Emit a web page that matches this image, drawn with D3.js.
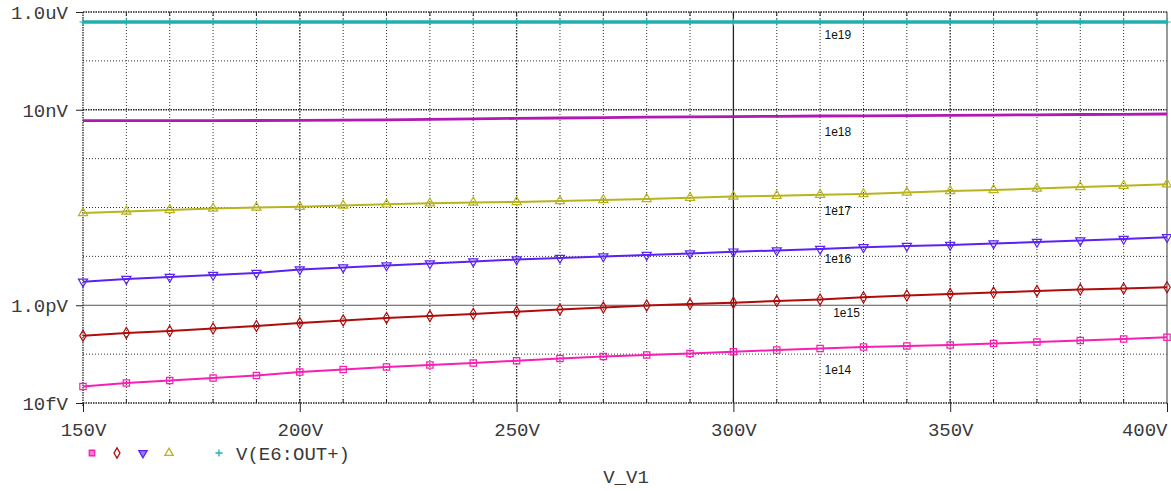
<!DOCTYPE html>
<html>
<head>
<meta charset="utf-8">
<script src="https://cdn.jsdelivr.net/npm/d3@7"></script>
<style>
  body { margin: 0; background: #fff; }
  svg { display: block; }
  .axis text { font-family: "Liberation Mono", "Courier New", monospace; fill: #3a3a3a; }
</style>
</head>
<body>
<div id="chart"></div>
<script>
// sweep voltage (V_V1), one point every 10 V
const volts = [150, 160, 170, 180, 190, 200, 210, 220, 230, 240, 250, 260, 270,
  280, 290, 300, 310, 320, 330, 340, 350, 360, 370, 380, 390, 400];

// V(E6:OUT+) for each parameter value
const v1e14 = [2.18e-14, 2.57e-14, 2.89e-14, 3.25e-14, 3.65e-14, 4.31e-14, 4.85e-14, 5.45e-14,
  5.99e-14, 6.58e-14, 7.34e-14, 8.14e-14, 8.94e-14, 9.60e-14, 1.03e-13, 1.12e-13, 1.21e-13,
  1.30e-13, 1.40e-13, 1.47e-13, 1.54e-13, 1.65e-13, 1.77e-13, 1.90e-13, 2.04e-13, 2.21e-13];
const v1e15 = [2.38e-13, 2.71e-13, 2.97e-13, 3.34e-13, 3.76e-13, 4.33e-13, 4.88e-13, 5.49e-13,
  6.03e-13, 6.62e-13, 7.38e-13, 8.18e-13, 8.99e-13, 9.88e-13, 1.06e-12, 1.13e-12, 1.22e-12,
  1.31e-12, 1.45e-12, 1.58e-12, 1.70e-12, 1.82e-12, 1.96e-12, 2.10e-12, 2.20e-12, 2.33e-12];
const v1e16 = [3.03e-12, 3.44e-12, 3.78e-12, 4.16e-12, 4.57e-12, 5.39e-12, 5.92e-12, 6.51e-12,
  7.15e-12, 7.86e-12, 8.63e-12, 9.27e-12, 9.94e-12, 1.07e-11, 1.15e-11, 1.25e-11, 1.32e-11,
  1.42e-11, 1.53e-11, 1.63e-11, 1.71e-11, 1.83e-11, 1.97e-11, 2.11e-11, 2.27e-11, 2.46e-11];
const v1e17 = [7.72e-11, 8.28e-11, 8.89e-11, 9.54e-11, 1.00e-10, 1.04e-10, 1.10e-10, 1.16e-10,
  1.22e-10, 1.27e-10, 1.30e-10, 1.36e-10, 1.42e-10, 1.49e-10, 1.59e-10, 1.68e-10, 1.74e-10,
  1.83e-10, 1.89e-10, 2.03e-10, 2.18e-10, 2.28e-10, 2.45e-10, 2.63e-10, 2.79e-10, 2.98e-10];
const v1e18 = [5.97e-9, 5.97e-9, 6.00e-9, 6.00e-9, 6.03e-9, 6.06e-9, 6.11e-9, 6.23e-9,
  6.38e-9, 6.53e-9, 6.65e-9, 6.78e-9, 6.91e-9, 7.04e-9, 7.14e-9, 7.24e-9, 7.35e-9,
  7.45e-9, 7.52e-9, 7.59e-9, 7.66e-9, 7.77e-9, 7.88e-9, 7.99e-9, 8.07e-9, 8.18e-9];
const v1e19 = [6.24e-7, 6.24e-7, 6.24e-7, 6.24e-7, 6.24e-7, 6.24e-7, 6.24e-7, 6.24e-7,
  6.24e-7, 6.24e-7, 6.24e-7, 6.24e-7, 6.24e-7, 6.24e-7, 6.24e-7, 6.24e-7, 6.24e-7,
  6.24e-7, 6.24e-7, 6.24e-7, 6.24e-7, 6.24e-7, 6.24e-7, 6.24e-7, 6.24e-7, 6.24e-7];

const seriesNames = ['1e14', '1e15', '1e16', '1e17', '1e18', '1e19'];
const seriesValues = [v1e14, v1e15, v1e16, v1e17, v1e18, v1e19];
// where the hand-placed annotation sits, in data units [V, volts]
const annotVolts = [321, 323, 321, 321, 321, 321];
const annotLevels = [3.92e-14, 5.75e-13, 7.32e-12, 7.02e-11, 2.9e-9, 2.8e-7];

const xTickValues = [150, 200, 250, 300, 350, 400];
const xTickLabels = ['150V', '200V', '250V', '300V', '350V', '400V'];
const yTickValues = [1e-6, 1e-8, 1e-12, 1e-14];
const yTickLabels = ['1.0uV', '10nV', '1.0pV', '10fV'];
const legendText = 'V(E6:OUT+)';
const xTitle = 'V_V1';

// look of each trace
const styles = [
  { color: '#f71fb4', width: 2, marker: 'square' },
  { color: '#b00c0c', width: 2, marker: 'diamond' },
  { color: '#5a22f5', width: 2, marker: 'down' },
  { color: '#b8b41e', width: 2, marker: 'up' },
  { color: '#b01ab2', width: 2.8, marker: 'none' },
  { color: '#1fb0ac', width: 3.5, marker: 'plus' },
];

const W = 1171;
const H = 491;
const plot = { left: 83, right: 1167, top: 12, bottom: 403 };

const svg = d3.select('#chart')
  .append('svg')
  .attr('width', W)
  .attr('height', H);

const x = d3.scaleLinear().domain([150, 400]).range([plot.left, plot.right]);
const y = d3.scaleLog().domain([1e-14, 1e-6]).range([plot.bottom, plot.top]);

// grid
const minorX = d3.range(160, 400, 10).filter((v) => v % 50 !== 0);
svg.append('g').selectAll('line')
  .data(minorX)
  .enter()
  .append('line')
  .attr('x1', (d) => x(d)).attr('x2', (d) => x(d))
  .attr('y1', plot.top).attr('y2', plot.bottom)
  .attr('stroke', '#333')
  .attr('stroke-width', 1)
  .attr('stroke-dasharray', '1,2');

svg.append('g').selectAll('line')
  .data([200, 250, 350])
  .enter()
  .append('line')
  .attr('x1', (d) => x(d)).attr('x2', (d) => x(d))
  .attr('y1', plot.top).attr('y2', plot.bottom)
  .attr('stroke', '#222')
  .attr('stroke-width', 1.3)
  .attr('stroke-dasharray', '1.5,1.5');

svg.append('line')
  .attr('x1', x(300)).attr('x2', x(300))
  .attr('y1', plot.top).attr('y2', plot.bottom)
  .attr('stroke', '#222')
  .attr('stroke-width', 1.3);

const decades = d3.range(-13, -6).map((k) => Math.pow(10, k)).filter((v) => v !== 1e-8 && v !== 1e-12);
svg.append('g').selectAll('line')
  .data(decades)
  .enter()
  .append('line')
  .attr('x1', plot.left).attr('x2', plot.right)
  .attr('y1', (d) => y(d)).attr('y2', (d) => y(d))
  .attr('stroke', '#333')
  .attr('stroke-width', 1)
  .attr('stroke-dasharray', '1,2');

svg.append('g').selectAll('line')
  .data([1e-6, 1e-8, 1e-14])
  .enter()
  .append('line')
  .attr('x1', plot.left).attr('x2', plot.right)
  .attr('y1', (d) => y(d)).attr('y2', (d) => y(d))
  .attr('stroke', '#222')
  .attr('stroke-width', 1.3)
  .attr('stroke-dasharray', '1.5,1');

svg.append('line')
  .attr('x1', plot.left).attr('x2', plot.right)
  .attr('y1', y(1e-12)).attr('y2', y(1e-12))
  .attr('stroke', '#555')
  .attr('stroke-width', 1);

// frame: dotted left edge, solid right edge
svg.append('line')
  .attr('x1', plot.left).attr('x2', plot.left)
  .attr('y1', plot.top).attr('y2', plot.bottom + 3)
  .attr('stroke', '#222')
  .attr('stroke-width', 1.3)
  .attr('stroke-dasharray', '1.5,1');
svg.append('line')
  .attr('x1', plot.right).attr('x2', plot.right)
  .attr('y1', plot.top).attr('y2', plot.bottom)
  .attr('stroke', '#555')
  .attr('stroke-width', 1.2);

// small ticks on top and bottom edges, every 10 V
const allX = d3.range(160, 400, 10);
svg.append('g').selectAll('line')
  .data(allX)
  .enter()
  .append('line')
  .attr('x1', (d) => x(d)).attr('x2', (d) => x(d))
  .attr('y1', plot.top).attr('y2', plot.top + 4)
  .attr('stroke', '#222');
svg.append('g').selectAll('line')
  .data(allX)
  .enter()
  .append('line')
  .attr('x1', (d) => x(d)).attr('x2', (d) => x(d))
  .attr('y1', plot.bottom - 4).attr('y2', plot.bottom)
  .attr('stroke', '#222');

// X axis
const xAxis = svg.append('g')
  .attr('class', 'axis')
  .attr('transform', `translate(0,${plot.bottom})`)
  .call(d3.axisBottom(x).tickValues(xTickValues).tickFormat((d, i) => xTickLabels[i]).tickSize(9));
xAxis.select('.domain').remove();
xAxis.selectAll('line').attr('stroke', '#222');
xAxis.selectAll('text')
  .attr('y', 33).attr('dy', 0)
  .style('font-size', '19px')
  // last label is pulled inside the frame
  .attr('text-anchor', (d) => (d === 400 ? 'end' : 'middle'));

// Y axis
const yAxis = svg.append('g')
  .attr('class', 'axis')
  .attr('transform', `translate(${plot.left},0)`)
  .call(d3.axisLeft(y).tickValues(yTickValues).tickFormat((d, i) => yTickLabels[i]).tickSize(7));
yAxis.select('.domain').remove();
yAxis.selectAll('line').attr('stroke', '#222');
yAxis.selectAll('text')
  .attr('x', -15).attr('dy', '0.35em')
  .style('font-size', '19px');

// markers
function markerPath(type, size) {
  if (type === 'square') return d3.symbol(d3.symbolSquare, size)();
  if (type === 'diamond') return d3.symbol(d3.symbolDiamond, size)();
  if (type === 'up' || type === 'down') return d3.symbol(d3.symbolTriangle, size)();
  if (type === 'plus') return 'M0,-3.5V3.5M-3.5,0H3.5';
  return null;
}

const line = d3.line()
  .x((d) => x(d[0]))
  .y((d) => y(d[1]));

seriesValues.forEach((vals, i) => {
  const st = styles[i];
  const pts = volts.map((v, j) => [v, vals[j]]);
  const g = svg.append('g');

  g.append('path')
    .datum(pts)
    .attr('d', line)
    .attr('fill', 'none')
    .attr('stroke', st.color)
    .attr('stroke-width', st.width);

  if (st.marker !== 'none') {
    g.selectAll('path.mk')
      .data(pts)
      .enter()
      .append('path')
      .attr('class', 'mk')
      .attr('d', markerPath(st.marker, st.marker === 'square' ? 40 : 36))
      .attr('transform', (d) => `translate(${x(d[0])},${y(d[1])})${st.marker === 'down' ? 'rotate(180)' : ''}`)
      .attr('fill', 'none')
      .attr('stroke', st.color)
      .attr('stroke-width', 1.2);
  }

  // series annotation
  svg.append('text')
    .attr('x', x(annotVolts[i]))
    .attr('y', y(annotLevels[i]))
    .attr('font-family', '"Liberation Sans", Arial, sans-serif')
    .attr('font-size', '12px')
    .attr('fill', '#111')
    .text(seriesNames[i]);
});

// legend
const legendX = [92, 117, 143, 169, 194, 219];
const legend = svg.append('g').attr('transform', 'translate(0,453)');
styles.forEach((st, i) => {
  if (st.marker === 'none') return;
  legend.append('path')
    .attr('d', markerPath(st.marker, 30))
    .attr('transform', `translate(${legendX[i]},0)${st.marker === 'down' ? 'rotate(180)' : ''}`)
    .attr('fill', st.marker === 'square' || st.marker === 'down' ? st.color : 'none')
    .attr('fill-opacity', 0.6)
    .attr('stroke', st.color)
    .attr('stroke-width', 1.3);
});
legend.append('text')
  .attr('x', 236)
  .attr('y', 7)
  .attr('font-family', '"Liberation Mono", "Courier New", monospace')
  .attr('font-size', '19px')
  .attr('fill', '#3a3a3a')
  .text(legendText);

// x title
svg.append('text')
  .attr('x', 626)
  .attr('y', 483)
  .attr('text-anchor', 'middle')
  .attr('font-family', '"Liberation Mono", "Courier New", monospace')
  .attr('font-size', '19px')
  .attr('fill', '#3a3a3a')
  .text(xTitle);
</script>
</body>
</html>
